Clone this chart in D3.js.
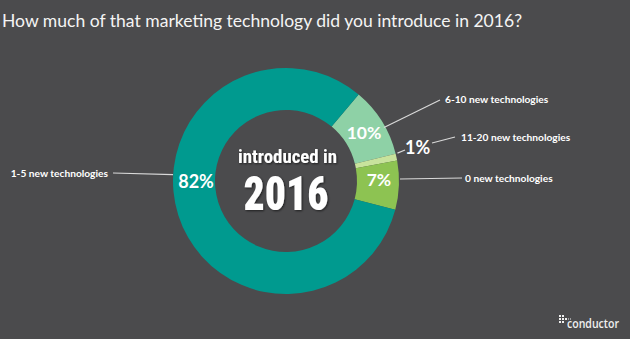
<!DOCTYPE html>
<html>
<head>
<meta charset="utf-8">
<script src="https://cdn.jsdelivr.net/npm/d3@7"></script>
<style>
  html, body { margin: 0; padding: 0; background: #4b4b4d; }
  svg { display: block; }
</style>
</head>
<body>
<svg id="chart" width="630" height="339"></svg>
<script>
// ---- data ----
const title = "How much of that marketing technology did you introduce in 2016?";
const categories = ["6-10 new technologies", "11-20 new technologies", "0 new technologies", "1-5 new technologies"];
const values = [10, 1, 7, 82];
const sliceColors = ["#8ed1a6", "#c8e39c", "#8dc352", "#009a8f"];
const centerLine1 = "introduced in";
const centerLine2 = "2016";
const logoText = "conductor";

// ---- layout ----
const W = 630, H = 339;
const cx = 286, cy = 181, R = 113, r = 71;
const svg = d3.select("#chart");
svg.append("rect").attr("width", W).attr("height", H).attr("fill", "#4b4b4d");

const defs = svg.append("defs");
const f = defs.append("filter").attr("id", "shadow").attr("x", "-20%").attr("y", "-20%").attr("width", "140%").attr("height", "140%");
f.append("feDropShadow").attr("dx", 1).attr("dy", 1).attr("stdDeviation", 0.8).attr("flood-color", "#000").attr("flood-opacity", 0.6);

svg.append("text")
  .attr("x", 2).attr("y", 27)
  .attr("fill", "#f4f4f4")
  .attr("font-family", "Lato, 'Open Sans', sans-serif")
  .attr("font-size", 17.5)
  .attr("textLength", 520).attr("lengthAdjust", "spacingAndGlyphs")
  .text(title);

const color = d3.scaleOrdinal().domain(categories).range(sliceColors);
const pie = d3.pie().sort(null).value(d => d.value)
  .startAngle(40 * Math.PI / 180).endAngle(40 * Math.PI / 180 + 2 * Math.PI);
const data = categories.map((c, i) => ({ cat: c, value: values[i] }));
const arcs = pie(data);
const arc = d3.arc().innerRadius(r).outerRadius(R);

const g = svg.append("g").attr("transform", `translate(${cx},${cy})`);
g.selectAll("path").data(arcs).join("path")
  .attr("d", arc)
  .attr("fill", d => color(d.data.cat));

const polar = (rad, a) => [rad * Math.sin(a), -rad * Math.cos(a)];
const mid = d => (d.startAngle + d.endAngle) / 2;

// percentage labels
const pctFont = "Lato, 'Open Sans', sans-serif";
arcs.forEach(d => {
  let pos, size = 17.5;
  if (d.data.value > 50) {
    pos = polar((R + r) / 2, 1.5 * Math.PI);
    pos[0] += 2;
    size = 18;
  } else if (d.data.value < 3) {
    pos = polar(R + 23, mid(d) - 0.04);
    size = 18;
  } else {
    pos = polar((R + r) / 2, mid(d));
    if (d.data.value < 9) { pos[0] += 1; pos[1] -= 5; }
  }
  g.append("text")
    .attr("x", pos[0]).attr("y", pos[1])
    .attr("text-anchor", "middle").attr("dominant-baseline", "central")
    .attr("fill", "#ffffff").attr("font-weight", "bold")
    .attr("font-family", pctFont).attr("font-size", size)
    .text(d.data.value + "%");
});

// leader lines + category labels
const lineColor = "#d9d9d9";
const labelFont = "Lato, 'Open Sans', sans-serif";
function leader(x1, y1, x2, y2) {
  svg.append("line").attr("x1", x1).attr("y1", y1).attr("x2", x2).attr("y2", y2)
    .attr("stroke", lineColor).attr("stroke-width", 1.2);
}
function catLabel(text, x, y, anchor) {
  svg.append("text").attr("x", x).attr("y", y)
    .attr("text-anchor", anchor).attr("dominant-baseline", "central")
    .attr("fill", "#ffffff").attr("font-weight", "bold")
    .attr("font-family", labelFont).attr("font-size", 10.2)
    .text(text);
}
arcs.forEach(d => {
  const name = d.data.cat;
  if (d.data.value > 50) {
    const p = polar(R, 1.5 * Math.PI + 0.03);
    leader(cx + p[0], cy + p[1] - 3, 113, 173);
    catLabel(name, 108, 173, "end");
  } else if (d.data.value < 3) {
    const p = polar(R, mid(d));
    leader(cx + p[0] + 1, cy + p[1] - 4, 405, 150);
    leader(432, 143, 455, 137);
    catLabel(name, 461, 137, "start");
  } else if (d.data.value < 9) {
    leader(400, 179, 462, 178);
    catLabel(name, 465, 178, "start");
  } else {
    const p = polar(R - 14, mid(d));
    leader(cx + p[0] + 14, cy + p[1] - 1, 440, 100);
    catLabel(name, 445, 99, "start");
  }
});

// center text
const centerFont = "'Roboto Condensed', 'Liberation Sans Narrow', Roboto, 'Liberation Sans', sans-serif";
svg.append("text")
  .attr("x", 287.5).attr("y", 162.5)
  .attr("text-anchor", "middle")
  .attr("fill", "#ffffff").attr("font-weight", "bold")
  .attr("font-family", centerFont).attr("font-size", 17.5)
  .attr("textLength", 99).attr("lengthAdjust", "spacingAndGlyphs")
  .attr("filter", "url(#shadow)")
  .text(centerLine1);
svg.append("text")
  .attr("x", 286).attr("y", 210)
  .attr("text-anchor", "middle")
  .attr("fill", "#ffffff").attr("font-weight", 900)
  .attr("font-family", centerFont).attr("font-size", 49)
  .attr("textLength", 85).attr("lengthAdjust", "spacingAndGlyphs")
  .attr("filter", "url(#shadow)")
  .text(centerLine2);

// logo
const logo = svg.append("g").attr("fill", "#f0f0f0");
[[559, 315], [562, 315], [559, 318], [562, 318], [565, 318], [559, 321], [562, 321]].forEach(p => {
  logo.append("rect").attr("x", p[0]).attr("y", p[1]).attr("width", 2).attr("height", 2);
});
logo.append("line").attr("x1", 566).attr("y1", 319).attr("x2", 571).attr("y2", 319)
  .attr("stroke", "#f0f0f0").attr("stroke-width", 1).attr("stroke-dasharray", "1,1");
logo.append("text").attr("x", 567).attr("y", 328)
  .attr("font-family", "'Open Sans', sans-serif").attr("font-size", 12.5).attr("font-weight", 600)
  .attr("textLength", 52).attr("lengthAdjust", "spacingAndGlyphs")
  .text(logoText);
</script>
</body>
</html>
